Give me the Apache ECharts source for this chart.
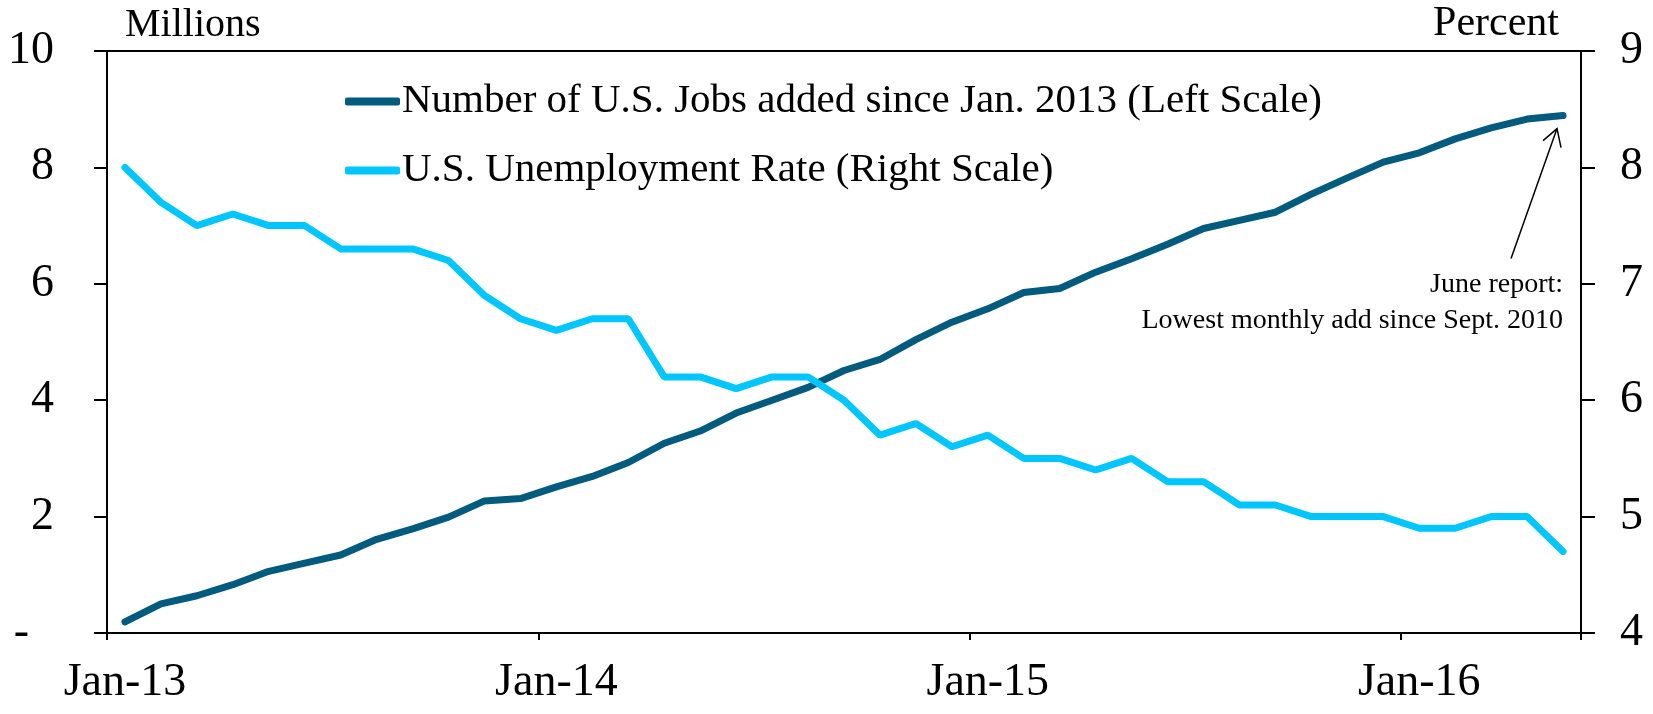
<!DOCTYPE html>
<html>
<head>
<meta charset="utf-8">
<script src="https://cdn.jsdelivr.net/npm/echarts@6/dist/echarts.min.js"></script>
<style>
  html, body { margin: 0; padding: 0; background: #fff; }
  #chart { width: 1653px; height: 714px; }
</style>
</head>
<body>
<div id="chart"></div>
<script>
// monthly, Jan-13 .. May-16
const months = [
  'Jan-13', 'Feb-13', 'Mar-13', 'Apr-13', 'May-13', 'Jun-13', 'Jul-13', 'Aug-13', 'Sep-13', 'Oct-13', 'Nov-13', 'Dec-13',
  'Jan-14', 'Feb-14', 'Mar-14', 'Apr-14', 'May-14', 'Jun-14', 'Jul-14', 'Aug-14', 'Sep-14', 'Oct-14', 'Nov-14', 'Dec-14',
  'Jan-15', 'Feb-15', 'Mar-15', 'Apr-15', 'May-15', 'Jun-15', 'Jul-15', 'Aug-15', 'Sep-15', 'Oct-15', 'Nov-15', 'Dec-15',
  'Jan-16', 'Feb-16', 'Mar-16', 'Apr-16', 'May-16'
]

// millions, cumulative since Jan. 2013
const jobsAdded = [
  0.19, 0.50, 0.64, 0.83, 1.06, 1.20, 1.34, 1.61, 1.79, 1.99, 2.27, 2.31,
  2.51, 2.69, 2.93, 3.26, 3.47, 3.78, 4.00, 4.22, 4.51, 4.70, 5.04, 5.34,
  5.57, 5.85, 5.92, 6.20, 6.43, 6.68, 6.95, 7.09, 7.23, 7.54, 7.82, 8.09,
  8.25, 8.49, 8.68, 8.83, 8.89
]

// percent
const unemploymentRate = [
  8.0, 7.7, 7.5, 7.6, 7.5, 7.5, 7.3, 7.3, 7.3, 7.2, 6.9, 6.7,
  6.6, 6.7, 6.7, 6.2, 6.2, 6.1, 6.2, 6.2, 6.0, 5.7, 5.8, 5.6,
  5.7, 5.5, 5.5, 5.4, 5.5, 5.3, 5.3, 5.1, 5.1, 5.0, 5.0, 5.0,
  4.9, 4.9, 5.0, 5.0, 4.7
]

const seriesNames = [
  'Number of U.S. Jobs added since Jan. 2013 (Left Scale)',
  'U.S. Unemployment Rate (Right Scale)'
]
const noteLines = ['June report:', 'Lowest monthly add since Sept. 2010']

const FONT = '"Liberation Serif", "DejaVu Serif", serif'
const DARK = '#005B7F'
const LIGHT = '#00C6FF'

const chart = echarts.init(document.getElementById('chart'))

const axisLine = { show: true, lineStyle: { color: '#000', width: 2 } }

const option = {
  animation: false,
  backgroundColor: '#fff',
  grid: { left: 107, right: 72, top: 51, bottom: 81, containLabel: false },
  legend: {
    orient: 'vertical',
    left: 340,
    top: 76,
    itemWidth: 55,
    itemHeight: 8,
    itemGap: 28,
    icon: 'roundRect',
    textStyle: { fontFamily: FONT, fontSize: 41, color: '#000', padding: [0, 0, 0, -3] },
    data: seriesNames
  },
  xAxis: [
    {
      type: 'category',
      data: months,
      boundaryGap: true,
      axisLine: axisLine,
      axisTick: { show: true, interval: 11, length: 7, lineStyle: { color: '#000', width: 2 } },
      axisLabel: { interval: 11, margin: 27, fontFamily: FONT, fontSize: 46, color: '#000' },
      splitLine: { show: false }
    },
    {
      type: 'category',
      data: months,
      position: 'top',
      axisLine: axisLine,
      axisTick: { show: false },
      axisLabel: { show: false }
    }
  ],
  yAxis: [
    {
      type: 'value',
      min: 0,
      max: 10,
      interval: 2,
      position: 'left',
      name: 'Millions',
      nameLocation: 'end',
      nameGap: 6,
      nameTextStyle: { fontFamily: FONT, fontSize: 40, color: '#000', align: 'left', verticalAlign: 'bottom', padding: [0, 0, 0, 18] },
      axisLine: axisLine,
      axisTick: { show: true, length: 13, lineStyle: { color: '#000', width: 2 } },
      axisLabel: {
        margin: 53,
        fontFamily: FONT,
        fontSize: 46,
        color: '#000',
        formatter: (v) => (v === 0 ? '{d|-}' : String(v)),
        rich: { d: { fontFamily: FONT, fontSize: 46, color: '#000', padding: [0, 25, 0, 0] } }
      },
      splitLine: { show: false }
    },
    {
      type: 'value',
      min: 4,
      max: 9,
      interval: 1,
      position: 'right',
      name: 'Percent',
      nameLocation: 'end',
      nameGap: 6,
      nameTextStyle: { fontFamily: FONT, fontSize: 42, color: '#000', align: 'right', verticalAlign: 'bottom', padding: [0, 22, 0, 0] },
      axisLine: axisLine,
      axisTick: { show: true, length: 14, lineStyle: { color: '#000', width: 2 } },
      axisLabel: { margin: 39, fontFamily: FONT, fontSize: 46, color: '#000' },
      splitLine: { show: false }
    }
  ],
  series: [
    {
      name: seriesNames[0],
      type: 'line',
      yAxisIndex: 0,
      data: jobsAdded,
      showSymbol: false,
      symbol: 'none',
      color: DARK,
      lineStyle: { width: 7, color: DARK, cap: 'round' }
    },
    {
      name: seriesNames[1],
      type: 'line',
      yAxisIndex: 1,
      data: unemploymentRate,
      showSymbol: false,
      symbol: 'none',
      color: LIGHT,
      lineStyle: { width: 7, color: LIGHT, cap: 'round' }
    }
  ]
}

chart.setOption(option)

// annotation arrow + note, anchored to the last jobs point
const last = jobsAdded.length - 1
const [px, py] = chart.convertToPixel({ xAxisIndex: 0, yAxisIndex: 0 }, [last, jobsAdded[last]])
const tip = [px - 6, py + 13]
const arrowStyle = { stroke: '#000', lineWidth: 1.5 }

chart.setOption({
  graphic: [
    { type: 'line', shape: { x1: px - 52, y1: py + 143, x2: tip[0], y2: tip[1] }, style: arrowStyle },
    { type: 'polyline', shape: { points: [[px - 20, py + 25], tip, [px - 2, py + 32]] }, style: Object.assign({ fill: null }, arrowStyle) },
    {
      type: 'text',
      x: px,
      y: py + 183,
      style: { text: noteLines[0], fontFamily: FONT, fontSize: 28, fill: '#000', align: 'right', verticalAlign: 'bottom' }
    },
    {
      type: 'text',
      x: px,
      y: py + 219,
      style: { text: noteLines[1], fontFamily: FONT, fontSize: 28, fill: '#000', align: 'right', verticalAlign: 'bottom' }
    }
  ]
})
</script>
</body>
</html>
